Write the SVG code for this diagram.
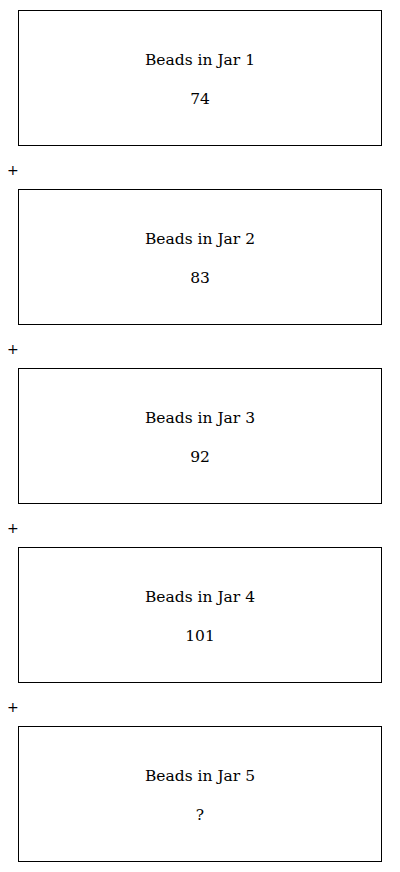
<svg xmlns="http://www.w3.org/2000/svg" width="400" height="872" viewBox="0 0 400 872">
<style>
.box{fill:#fff;stroke:#000;stroke-width:1}
.t{font-family:"DejaVu Serif","Liberation Serif",serif;font-size:15.5px;fill:#000;text-anchor:middle}
.p{font-family:"DejaVu Sans","Liberation Sans",sans-serif;font-size:14px;fill:#000}
</style>
<rect width="400" height="872" fill="#fff"/>
<g id="connectors">
<text class="p" x="7" y="175">+</text>
<text class="p" x="7" y="354">+</text>
<text class="p" x="7" y="533">+</text>
<text class="p" x="7" y="712">+</text>
</g>
<g id="jar1"><rect class="box" x="18.5" y="10.5" width="363" height="135"/><text class="t" x="200" y="65">Beads in Jar 1</text><text class="t" x="200" y="104">74</text></g>
<g id="jar2"><rect class="box" x="18.5" y="189.5" width="363" height="135"/><text class="t" x="200" y="244">Beads in Jar 2</text><text class="t" x="200" y="283">83</text></g>
<g id="jar3"><rect class="box" x="18.5" y="368.5" width="363" height="135"/><text class="t" x="200" y="423">Beads in Jar 3</text><text class="t" x="200" y="462">92</text></g>
<g id="jar4"><rect class="box" x="18.5" y="547.5" width="363" height="135"/><text class="t" x="200" y="602">Beads in Jar 4</text><text class="t" x="200" y="641">101</text></g>
<g id="jar5"><rect class="box" x="18.5" y="726.5" width="363" height="135"/><text class="t" x="200" y="781">Beads in Jar 5</text><text class="t" x="200" y="820">?</text></g>
</svg>
